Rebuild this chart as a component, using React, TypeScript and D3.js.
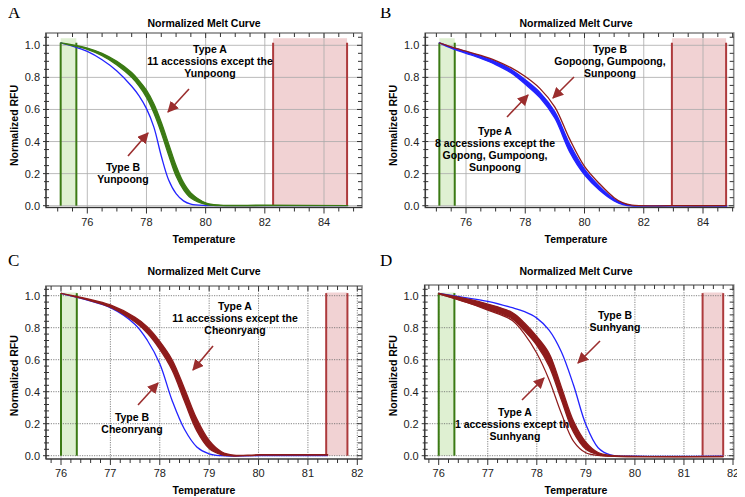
import { useEffect, useRef } from 'react'
import * as d3 from 'd3'

const W = 745, H = 497

// tick labels
const ticksWide = [76, 78, 80, 82, 84]
const ticksNarrow = [76, 77, 78, 79, 80, 81, 82]
const rfuTicks = [0, 0.2, 0.4, 0.6, 0.8, 1.0]

// A: Yunpoong (type B) vs the 11 other accessions (type A, drawn as a band hi/lo)
const tempA = [75.1, 75.5, 76, 76.5, 77, 77.5, 77.75, 78, 78.25, 78.5, 78.75, 79, 79.25, 79.5, 80, 80.5, 82, 84.8]
const aTypeAHi = [1.015, 1.003, 0.983, 0.95, 0.9, 0.83, 0.78, 0.72, 0.635, 0.52, 0.385, 0.25, 0.145, 0.08, 0.018, 0.004, 0.003, 0.001]
const aTypeALo = [1.015, 0.998, 0.974, 0.935, 0.878, 0.8, 0.745, 0.675, 0.578, 0.455, 0.315, 0.185, 0.1, 0.048, 0.008, 0.0, 0.0, 0.0]
const aTypeB = [1.015, 0.995, 0.962, 0.91, 0.84, 0.745, 0.685, 0.605, 0.49, 0.31, 0.16, 0.075, 0.03, 0.01, 0.001, 0.0, 0.0, 0.0]

// B: Gopoong, Gumpoong, Sunpoong (type B) vs 8 accessions (type A band)
const tempB = [75.1, 75.5, 76, 76.5, 77, 77.5, 78, 78.5, 79, 79.5, 80, 80.5, 81, 81.3, 81.6, 83, 84.8]
const bTypeAHi = [1.015, 0.988, 0.96, 0.932, 0.898, 0.852, 0.785, 0.705, 0.585, 0.385, 0.228, 0.122, 0.042, 0.014, 0.001, 0.0, -0.002]
const bTypeALo = [1.015, 0.982, 0.95, 0.918, 0.88, 0.83, 0.757, 0.672, 0.545, 0.335, 0.192, 0.098, 0.03, 0.007, -0.003, -0.003, -0.004]
const bTypeB = [1.015, 0.99, 0.963, 0.937, 0.905, 0.862, 0.805, 0.73, 0.615, 0.415, 0.245, 0.138, 0.05, 0.017, 0.003, 0.0, 0.0]

// C: Cheonryang (type B) vs 11 accessions (type A band)
const tempC = [76, 76.5, 77, 77.5, 77.75, 78, 78.25, 78.5, 78.75, 79, 79.25, 79.5, 80, 81.4]
const cTypeAHi = [1.015, 0.983, 0.942, 0.865, 0.805, 0.715, 0.6, 0.42, 0.23, 0.095, 0.025, 0.003, 0.006, 0.006]
const cTypeALo = [1.015, 0.977, 0.928, 0.835, 0.765, 0.665, 0.535, 0.34, 0.155, 0.045, 0.006, -0.002, 0.003, 0.003]
const cTypeB = [1.015, 0.975, 0.925, 0.82, 0.72, 0.575, 0.345, 0.165, 0.055, 0.012, 0.0, -0.002, 0.0, 0.0]

// D: Sunhyang (type B) vs the other accessions (type A band + one separate curve)
const tempD = [76, 76.5, 77, 77.5, 77.75, 78, 78.25, 78.5, 78.75, 79, 79.25, 79.5, 80, 81.8]
const dTypeAHi = [1.015, 0.985, 0.948, 0.895, 0.83, 0.745, 0.64, 0.43, 0.215, 0.085, 0.02, 0.002, -0.004, -0.004]
const dTypeALo = [1.012, 0.965, 0.915, 0.855, 0.78, 0.69, 0.56, 0.35, 0.145, 0.04, 0.006, -0.003, -0.006, -0.006]
const dTypeAEdge = [1.012, 0.965, 0.91, 0.845, 0.76, 0.64, 0.475, 0.265, 0.09, 0.018, 0.002, -0.003, -0.006, -0.006]
const dTypeB = [1.015, 0.99, 0.965, 0.925, 0.9, 0.86, 0.785, 0.65, 0.44, 0.195, 0.05, 0.005, -0.003, -0.003]

const GREEN = '#3b7a14', BLUE = '#2323ff', RED = '#8e1b1b', ARROW = '#9b2e2e'
const SANS = 'Arial, "Liberation Sans", sans-serif'

const panels = [
  {
    letter: 'A', ox: 0, oy: 0, L: 46, R: 362, T: 33, B: 207.5, xd: [76, 84], xr: [87.3, 324], y0: 205.7, y1: 45.3,
    ticks: ticksWide, minorX: 0.5, minorY: 0.05, green: [75.1, 75.63], red: [82.28, 84.78], bandTop: 1.044, dotted: false,
    bands: [{ x: tempA, hi: aTypeAHi, lo: aTypeALo, color: GREEN }],
    lines: [{ x: tempA, y: aTypeB, color: BLUE, w: 1.3 }],
    linesOnTop: false,
    notes: [
      { x: 210, y: 53, lines: ['Type A', '11 accessions except the', 'Yunpoong'] },
      { x: 123, y: 171, lines: ['Type B', 'Yunpoong'] },
    ],
    arrows: [[189, 89, 168, 112], [128, 156, 148, 133]],
  },
  {
    letter: 'B', ox: 372, oy: 0, L: 53.3, R: 361.7, T: 33, B: 207.5, xd: [76, 84], xr: [94, 331], y0: 205.7, y1: 45.3,
    ticks: ticksWide, minorX: 0.5, minorY: 0.05, green: [75.1, 75.62], red: [82.95, 84.78], bandTop: 1.044, dotted: false,
    bands: [{ x: tempB, hi: bTypeAHi, lo: bTypeALo, color: BLUE }],
    lines: [{ x: tempB, y: bTypeB, color: RED, w: 1.3 }],
    linesOnTop: true,
    notes: [
      { x: 238, y: 53, lines: ['Type B', 'Gopoong, Gumpoong,', 'Sunpoong'] },
      { x: 123, y: 135, lines: ['Type A', '8 accessions except the', 'Gopong, Gumpoong,', 'Sunpoong'] },
    ],
    arrows: [[202, 77, 181, 98], [135, 117, 156, 95]],
  },
  {
    letter: 'C', ox: 0, oy: 248, L: 46, R: 362, T: 38, B: 211, xd: [76, 82], xr: [61, 357.3], y0: 207.7, y1: 47.7,
    ticks: ticksNarrow, minorX: 0.2, minorY: 0.04, green: [76.0, 76.32], red: [81.37, 81.8], bandTop: 1.02, dotted: true,
    bands: [{ x: tempC, hi: cTypeAHi, lo: cTypeALo, color: RED }],
    lines: [{ x: tempC, y: cTypeB, color: BLUE, w: 1.3 }],
    linesOnTop: false,
    notes: [
      { x: 235, y: 62, lines: ['Type A', '11 accessions except the', 'Cheonryang'] },
      { x: 132, y: 173, lines: ['Type B', 'Cheonryang'] },
    ],
    arrows: [[213, 98, 193, 122], [138, 157, 158, 135]],
  },
  {
    letter: 'D', ox: 372, oy: 248, L: 52.7, R: 361.7, T: 37, B: 211, xd: [76, 82], xr: [66.7, 361], y0: 207.7, y1: 47.7,
    ticks: ticksNarrow, minorX: 0.2, minorY: 0.04, green: [76.0, 76.32], red: [81.38, 81.8], bandTop: 1.02, dotted: true,
    bands: [{ x: tempD, hi: dTypeAHi, lo: dTypeALo, color: RED }],
    lines: [{ x: tempD, y: dTypeB, color: BLUE, w: 1.3 }, { x: tempD, y: dTypeAEdge, color: RED, w: 1.2 }],
    linesOnTop: false,
    notes: [
      { x: 243, y: 71, lines: ['Type B', 'Sunhyang'] },
      { x: 143, y: 168, lines: ['Type A', '1 accessions except the', 'Sunhyang'] },
    ],
    arrows: [[228, 93, 206, 115], [150, 152, 172, 130]],
  },
]

const App = () => {
  const svgRef = useRef<SVGSVGElement>(null)

  useEffect(() => {
    const svg = d3.select(svgRef.current)
    svg.selectAll('*').remove()

    svg.append('defs').append('marker')
      .attr('id', 'head').attr('viewBox', '0 0 10 10').attr('refX', 9).attr('refY', 5)
      .attr('markerWidth', 7).attr('markerHeight', 7).attr('orient', 'auto')
      .append('path').attr('d', 'M0,0 L10,5 L0,10 Z').attr('fill', ARROW)

    panels.forEach(p => {
      const g = svg.append('g').attr('transform', `translate(${p.ox},${p.oy})`)
      const x = d3.scaleLinear().domain(p.xd).range(p.xr)
      const y = d3.scaleLinear().domain([0, 1]).range([p.y0, p.y1])
      const xMin = x.invert(p.L), xMax = x.invert(p.R)
      const yMin = y.invert(p.B), yMax = y.invert(p.T)

      // panel letter + titles
      g.append('text').attr('x', 8).attr('y', 18).attr('font-family', '"Liberation Serif", serif')
        .attr('font-size', 17).text(p.letter)
      g.append('text').attr('x', 204).attr('y', 27).attr('text-anchor', 'middle')
        .attr('font-family', SANS).attr('font-weight', 'bold').attr('font-size', 10.5)
        .text('Normalized Melt Curve')
      g.append('text').attr('x', 204).attr('y', p.B + 35).attr('text-anchor', 'middle')
        .attr('font-family', SANS).attr('font-weight', 'bold').attr('font-size', 10.5)
        .text('Temperature')
      g.append('text').attr('transform', `translate(${p.L - 28},${(p.y0 + p.y1) / 2}) rotate(-90)`)
        .attr('text-anchor', 'middle')
        .attr('font-family', SANS).attr('font-weight', 'bold').attr('font-size', 10.5)
        .text('Normalized RFU')

      // shaded regions
      const regions = [[p.green, '#dff0d2', GREEN], [p.red, '#f1d2d3', '#ad3a3c']] as const
      regions.forEach(([r, fill]) => {
        g.append('rect').attr('x', x(r[0])).attr('y', y(p.bandTop))
          .attr('width', x(r[1]) - x(r[0])).attr('height', y(0) - y(p.bandTop)).attr('fill', fill)
      })

      // grid
      const grid = g.append('g').attr('stroke', p.dotted ? '#666' : '#aaa').attr('stroke-width', 0.8)
        .attr('stroke-dasharray', p.dotted ? '1.2,1.2' : null)
      p.ticks.forEach(t => grid.append('line').attr('x1', x(t)).attr('x2', x(t)).attr('y1', p.T).attr('y2', p.B))
      rfuTicks.forEach(t => grid.append('line').attr('x1', p.L).attr('x2', p.R).attr('y1', y(t)).attr('y2', y(t)))

      // region edges
      regions.forEach(([r, , edge]) => {
        r.forEach(v => g.append('line').attr('x1', x(v)).attr('x2', x(v))
          .attr('y1', y(1.016)).attr('y2', y(0)).attr('stroke', edge).attr('stroke-width', 2))
      })

      // notes
      p.notes.forEach(n => {
        const t = g.append('text').attr('text-anchor', 'middle')
          .attr('font-family', SANS).attr('font-weight', 'bold').attr('font-size', 10.5)
        n.lines.forEach((s, i) => t.append('tspan').attr('x', n.x).attr('y', n.y + i * 12).text(s))
      })

      // curves
      const curve = d3.curveCatmullRom.alpha(0.5)
      const drawLines = () => p.lines.forEach(c => {
        const line = d3.line<number>().curve(curve).x((_, i) => x(c.x[i])).y(d => y(d))
        g.append('path').attr('d', line(c.y)).attr('fill', 'none')
          .attr('stroke', c.color).attr('stroke-width', c.w).attr('stroke-linejoin', 'round')
      })
      if (!p.linesOnTop) drawLines()
      p.bands.forEach(b => {
        const area = d3.area<number>().curve(curve).x((_, i) => x(b.x[i])).y0((_, i) => y(b.lo[i])).y1(d => y(d))
        g.append('path').attr('d', area(b.hi)).attr('fill', b.color)
          .attr('stroke', b.color).attr('stroke-width', 1.3).attr('stroke-linejoin', 'round')
      })
      if (p.linesOnTop) drawLines()

      // arrows
      p.arrows.forEach(([x1, y1, x2, y2]) => {
        g.append('line').attr('x1', x1).attr('y1', y1).attr('x2', x2).attr('y2', y2)
          .attr('stroke', ARROW).attr('stroke-width', 1.6).attr('marker-end', 'url(#head)')
      })

      // frame
      g.append('rect').attr('x', p.L).attr('y', p.T).attr('width', p.R - p.L).attr('height', p.B - p.T)
        .attr('fill', 'none').attr('stroke', '#8a8a8a').attr('stroke-width', 1.6)
      g.append('line').attr('x1', p.L).attr('x2', p.R).attr('y1', p.B).attr('y2', p.B).attr('stroke', '#333').attr('stroke-width', 1.2)
      g.append('line').attr('x1', p.L).attr('x2', p.L).attr('y1', p.T).attr('y2', p.B).attr('stroke', '#333').attr('stroke-width', 1.2)

      // ticks
      const tk = g.append('g').attr('stroke', '#333').attr('stroke-width', 1)
      const xMinor = d3.range(Math.ceil(xMin / p.minorX) * p.minorX, xMax, p.minorX)
      xMinor.forEach(v => {
        const major = p.ticks.some(t => Math.abs(t - v) < 1e-6)
        tk.append('line').attr('x1', x(v)).attr('x2', x(v)).attr('y1', p.B).attr('y2', p.B + (major ? 6 : 4))
        tk.append('line').attr('x1', x(v)).attr('x2', x(v)).attr('y1', p.T).attr('y2', p.T + (major ? 5 : 4))
      })
      const yMinor = d3.range(Math.ceil(yMin / p.minorY) * p.minorY, yMax, p.minorY)
      yMinor.forEach(v => {
        const major = rfuTicks.some(t => Math.abs(t - v) < 1e-6)
        tk.append('line').attr('x1', p.L - (major ? 3 : 2)).attr('x2', p.L + 3).attr('y1', y(v)).attr('y2', y(v))
        tk.append('line').attr('x1', p.R).attr('x2', p.R - (major ? 5 : 4)).attr('y1', y(v)).attr('y2', y(v))
      })

      // tick labels
      p.ticks.forEach(t => g.append('text').attr('x', x(t)).attr('y', p.B + 18).attr('text-anchor', 'middle')
        .attr('font-family', SANS).attr('font-size', 11).attr('fill', '#222')
        .text(String(t)))
      rfuTicks.forEach(t => g.append('text').attr('x', p.L - 6).attr('y', y(t) + 4).attr('text-anchor', 'end')
        .attr('font-family', SANS).attr('font-size', 11).attr('fill', '#222')
        .text(t.toFixed(1)))
    })
  }, [])

  return (
    <div style={{ width: W, height: H, marginLeft: -8, marginTop: -8, background: '#fff' }}>
      <svg ref={svgRef} width={W} height={H}></svg>
    </div>
  )
}

export default App
